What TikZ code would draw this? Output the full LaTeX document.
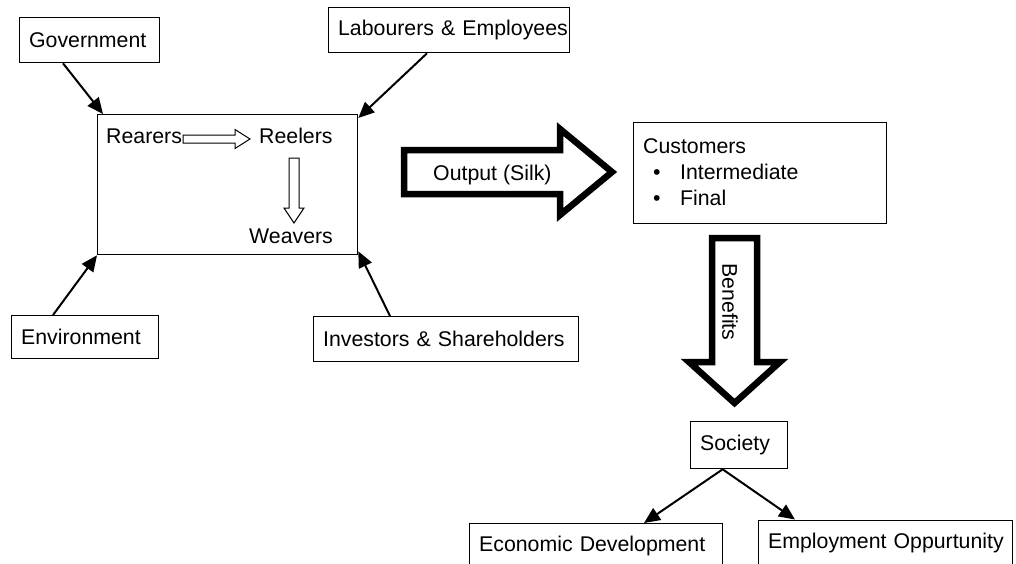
\documentclass[tikz,border=0pt]{standalone}
\usepackage{fontspec}
\setmainfont{Liberation Sans}
\usetikzlibrary{arrows.meta}
\begin{document}
\begin{tikzpicture}[x=1pt,y=-1pt,
  every node/.style={font=\fontsize{21.3}{26}\selectfont},
  box/.style={draw, line width=1.3pt, anchor=north west, inner xsep=9.5pt, inner ysep=0pt, align=left},
  lbl/.style={inner sep=0pt, anchor=base west},
  conn/.style={line width=2pt, -{Triangle[length=16pt,width=14pt]}},
  hollow/.style={draw, line width=1pt, fill=white, line join=miter},
  bigarrow/.style={draw, line width=6.5pt, line join=miter, miter limit=10}]
\useasboundingbox (0,0) rectangle (1016,563);

% boxes
\node[box, text width=121pt, minimum height=45pt] (gov) at (19,17) {Government};
\node[box, text width=222pt, minimum height=45pt] (lab) at (328,7) {\mbox{Labourers \& Employees}};
\node[box, minimum width=260pt, minimum height=140pt] (main) at (97,114) {};
\node[box, text width=128pt, minimum height=43pt] (env) at (11,315) {Environment};
\node[box, text width=246pt, minimum height=45pt] (inv) at (313,316) {\mbox{Investors \& Shareholders}};
\node[box, text width=234pt, minimum height=101pt, text height=12pt] (cust) at (633,122)
  {Customers\\
   \hspace*{10pt}\textbullet\hspace{19.5pt}Intermediate\\
   \hspace*{10pt}\textbullet\hspace{19.5pt}Final};
\node[box, text width=78pt, minimum height=47pt] (soc) at (690,421) {Society};
\node[box, text width=234pt, minimum height=45pt] (econ) at (469,523) {\mbox{Economic Development}};
\node[box, text width=235pt, minimum height=45pt] (emp) at (758,519.5) {\mbox{Employment Oppurtunity}};

% inner labels
\node[lbl] (rear) at (106,143) {Rearers};
\node[lbl] (reel) at (259,143) {Reelers};
\node[lbl] (weav) at (249,243) {Weavers};

% hollow arrows inside main box
\coordinate (ha) at (183,139);
\draw[hollow] (ha) ++(0,-4) -- ++(52,0) -- ++(0,-5.5) -- ++(15,9.5) -- ++(-15,9.5) -- ++(0,-5.5) -- ++(-52,0) -- cycle;
\coordinate (va) at (294,158);
\draw[hollow] (va) ++(-5,0) -- ++(10,0) -- ++(0,50) -- ++(5,0) -- ++(-10,15) -- ++(-10,-15) -- ++(5,0) -- cycle;

% big block arrows
\draw[bigarrow] (404,150) -- (560,150) -- (560,129) -- (612,172) -- (560,215) -- (560,194) -- (404,194) -- cycle;
\node[lbl] (out) at (433,180) {Output (Silk)};
\draw[bigarrow] (712,238) -- (757,238) -- (757,362) -- (780,362) -- (734.5,403) -- (689,362) -- (712,362) -- cycle;
\node[rotate=-90, inner sep=0pt] (ben) at (730,302) {Benefits};

% connectors
\draw[conn] ([xshift=44pt]gov.south west) -- ([xshift=6pt]main.north west);
\draw[conn] ([xshift=99pt]lab.south west) -- ([yshift=-4pt]main.north east);
\draw[conn] ([xshift=42pt]env.north west) -- (main.south west);
\draw[conn] ([xshift=77pt]inv.north west) -- ([yshift=4pt]main.south east);
\draw[conn] ([xshift=-16.5pt]soc.south) -- ([xshift=175pt]econ.north west);
\draw[conn] ([xshift=-16.5pt]soc.south) -- ([xshift=37pt]emp.north west);
\end{tikzpicture}
\end{document}
